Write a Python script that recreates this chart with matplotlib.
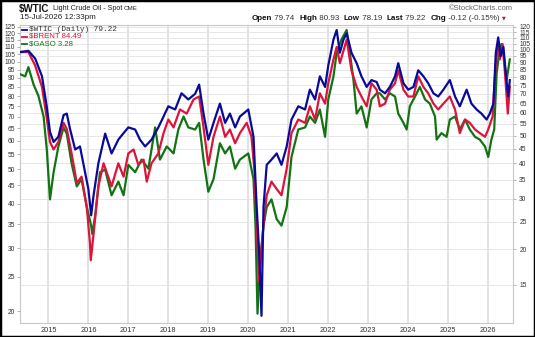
import matplotlib
matplotlib.use("Agg")
import matplotlib.pyplot as plt
from matplotlib.patches import Rectangle

# dates as decimal years (right-hand scale)
wtic_t = [2014.29, 2014.50, 2014.67, 2014.84, 2014.96, 2015.04, 2015.13, 2015.25, 2015.38, 2015.46,
          2015.54, 2015.67, 2015.79, 2015.88, 2016.00, 2016.07, 2016.13, 2016.25, 2016.42, 2016.58,
          2016.75, 2016.88, 2017.00, 2017.17, 2017.29, 2017.42, 2017.58, 2017.75, 2017.88, 2018.00,
          2018.17, 2018.33, 2018.50, 2018.67, 2018.77, 2018.88, 2019.00, 2019.13, 2019.29, 2019.42,
          2019.54, 2019.67, 2019.79, 2020.00, 2020.13, 2020.21, 2020.27, 2020.33, 2020.38, 2020.46,
          2020.58, 2020.71, 2020.83, 2020.96, 2021.08, 2021.25, 2021.42, 2021.54, 2021.67, 2021.79,
          2021.92, 2022.00, 2022.13, 2022.21, 2022.29, 2022.38, 2022.46, 2022.58, 2022.71, 2022.83,
          2022.96, 2023.08, 2023.21, 2023.29, 2023.42, 2023.54, 2023.67, 2023.75, 2023.88, 2024.00,
          2024.13, 2024.25, 2024.38, 2024.50, 2024.63, 2024.75, 2024.88, 2025.04, 2025.17, 2025.29,
          2025.46, 2025.58, 2025.71, 2025.83, 2025.96, 2026.04, 2026.13, 2026.19, 2026.25, 2026.31,
          2026.38, 2026.44, 2026.50, 2026.54]
wtic_v = [98, 99, 93, 80.6, 63, 51.5, 47.5, 49.5, 59, 59.7,
          52.8, 44.7, 45.8, 39.5, 32.5, 26.3, 30.9, 40, 50.8, 43.3,
          48.4, 51, 53.4, 52.5, 48.4, 45.8, 48.4, 53.4, 58.3, 63.3,
          61.7, 70.3, 66.9, 70, 75.4, 59.7, 48.4, 55.4, 64.7, 55.4,
          59.7, 53.4, 58.3, 61.7, 49.5, 28.1, 19.7, 11.7, 28.1, 39.5,
          41.2, 43.3, 39.5, 45.8, 56.9, 63.3, 61.7, 72.4, 66.9, 80.6,
          74, 87.9, 108.4, 117.1, 97.5, 108.4, 114, 97.5, 89.6, 80.6,
          74, 78.2, 77, 72.4, 70.3, 74, 80.6, 89.6, 76.2, 72.4,
          74, 84.6, 80.6, 76.2, 70.3, 68.5, 72.4, 78.2, 68.5, 63.3,
          72.4, 64.7, 61.7, 59.7, 56.9, 59.7, 64.7, 97.5, 110.3, 94.7,
          102.2, 82.4, 68.5, 78.2]

brent_t = [2014.29, 2014.50, 2014.67, 2014.84, 2014.96, 2015.04, 2015.13, 2015.25, 2015.38, 2015.46,
           2015.58, 2015.71, 2015.83, 2015.96, 2016.04, 2016.06, 2016.13, 2016.25, 2016.38, 2016.58,
           2016.75, 2016.88, 2017.00, 2017.13, 2017.25, 2017.38, 2017.46, 2017.58, 2017.75, 2017.88,
           2018.00, 2018.13, 2018.29, 2018.46, 2018.63, 2018.77, 2018.88, 2019.00, 2019.13, 2019.29,
           2019.42, 2019.54, 2019.67, 2019.79, 2019.96, 2020.08, 2020.15, 2020.21, 2020.27, 2020.32,
           2020.38, 2020.46, 2020.58, 2020.71, 2020.83, 2020.96, 2021.08, 2021.25, 2021.42, 2021.54,
           2021.67, 2021.79, 2021.92, 2022.00, 2022.13, 2022.21, 2022.29, 2022.38, 2022.46, 2022.58,
           2022.71, 2022.83, 2022.96, 2023.08, 2023.21, 2023.29, 2023.42, 2023.54, 2023.67, 2023.75,
           2023.88, 2024.00, 2024.13, 2024.25, 2024.38, 2024.50, 2024.63, 2024.75, 2024.88, 2025.04,
           2025.17, 2025.29, 2025.42, 2025.54, 2025.67, 2025.79, 2025.92, 2026.00, 2026.11, 2026.19,
           2026.25, 2026.29, 2026.36, 2026.42, 2026.49, 2026.54]
brent_v = [98, 98, 87.9, 74, 57.5, 47.5, 44.7, 47.5, 55.4, 52.8,
           43.3, 34.1, 35.9, 28.1, 21, 18.3, 22.6, 33.2, 40, 33.2,
           40, 35.9, 43.3, 44.7, 39.5, 41.2, 34.5, 40, 43.3, 51,
           56.9, 53.4, 61.7, 59.7, 66.9, 68.5, 53.4, 39.5, 49.5, 58.3,
           49.5, 52.5, 47, 51, 55.4, 49.5, 38.3, 24.2, 15.4, 19.7,
           24.2, 30.9, 34.5, 32.5, 30.9, 38.3, 51, 56.9, 55.4, 63.3,
           56.9, 70.3, 64.7, 76.2, 92.4, 102.2, 89.6, 99, 108.4, 84.6,
           74, 68.5, 63.3, 76.2, 72.4, 63.3, 64.7, 72.4, 76.2, 84.6,
           72.4, 68.5, 68.5, 80.6, 74, 70.3, 64.7, 61.7, 64.7, 68.5,
           61.7, 51, 56.9, 55.4, 52.5, 51, 49.5, 52.5, 58.3, 89.6,
           104.6, 92.4, 104.6, 82.4, 59.7, 74]

gaso_t = [2014.29, 2014.42, 2014.50, 2014.63, 2014.75, 2014.88, 2014.96, 2015.04, 2015.13, 2015.25,
          2015.38, 2015.46, 2015.58, 2015.71, 2015.83, 2015.96, 2016.07, 2016.10, 2016.17, 2016.29,
          2016.42, 2016.58, 2016.75, 2016.88, 2017.00, 2017.17, 2017.33, 2017.50, 2017.67, 2017.79,
          2017.96, 2018.13, 2018.25, 2018.38, 2018.50, 2018.67, 2018.77, 2018.88, 2019.00, 2019.13,
          2019.29, 2019.42, 2019.54, 2019.67, 2019.79, 2020.00, 2020.13, 2020.18, 2020.23, 2020.29,
          2020.38, 2020.46, 2020.58, 2020.71, 2020.83, 2020.96, 2021.08, 2021.25, 2021.42, 2021.54,
          2021.67, 2021.79, 2021.92, 2022.00, 2022.13, 2022.21, 2022.33, 2022.46, 2022.54, 2022.63,
          2022.71, 2022.83, 2022.96, 2023.08, 2023.21, 2023.29, 2023.42, 2023.54, 2023.67, 2023.75,
          2023.88, 2023.96, 2024.04, 2024.17, 2024.29, 2024.42, 2024.54, 2024.67, 2024.71, 2024.83,
          2024.96, 2025.04, 2025.17, 2025.29, 2025.42, 2025.54, 2025.67, 2025.79, 2025.92, 2026.00,
          2026.08, 2026.15, 2026.21, 2026.28, 2026.33, 2026.39, 2026.46, 2026.54]
gaso_v = [82, 80.6, 86.8, 75.4, 68.9, 58.3, 44.7, 29.9, 37.2, 45.8,
          53.4, 50.7, 40, 33.2, 35.2, 28.1, 24.2, 22.6, 26.3, 37.2,
          38, 30.9, 34.5, 30.9, 39.5, 37.2, 41.2, 38.3, 53.4, 41.2,
          45.8, 43.3, 52.5, 58.3, 53.4, 52.5, 55.4, 41.2, 31.8, 35.2,
          47, 43.3, 45.8, 38.3, 41.2, 43.3, 35.2, 24.2, 11.9, 17.6,
          24.2, 28.1, 29.9, 25.5, 24.2, 28.1, 42.1, 52.5, 53.4, 58.3,
          55.4, 61.7, 49.5, 66.9, 80.6, 97.5, 108.4, 117.1, 97.5, 78.2,
          59.7, 63.3, 53.4, 66.9, 70.3, 70.3, 66.9, 70.3, 68.5, 59.7,
          55.4, 52.5, 63.3, 68.5, 74, 66.9, 64.7, 58.3, 48.4, 51,
          49.5, 56.9, 58.3, 52.5, 56.9, 52.5, 49.5, 48.4, 45.8, 42.1,
          48.4, 52.5, 82.4, 99, 104.6, 94.7, 78.2, 92.4]

years = list(range(2015, 2027))
right_ticks = [15, 20, 25, 30, 35, 40, 45, 50, 55, 60, 65, 70, 75, 80, 85, 90, 95, 100, 105, 110, 115, 120]
left_ticks = [20, 25, 30, 35, 40, 45, 50, 55, 60, 65, 70, 75, 80, 85, 90, 95, 100, 105, 110, 115, 120, 125]

plt.rcParams['font.family'] = ['Liberation Sans', 'DejaVu Sans']

W, H = 535, 337
fig = plt.figure(figsize=(W / 100, H / 100), dpi=100)
fig.patch.set_facecolor('white')

ax = fig.add_axes([20 / W, 1 - 323 / H, 493 / W, 298 / H])
ax.set_yscale('log')
ax.set_ylim(11.04, 121.9)
ax.set_xlim(2014.29, 2026.62)

ax.plot(gaso_t, gaso_v, color='#137313', lw=1.6, zorder=3)
ax.plot(brent_t, brent_v, color='#dc143c', lw=1.6, zorder=4)
ax.plot(wtic_t, wtic_v, color='#0a0a9a', lw=1.6, zorder=5)

# left-hand scale (drawn first so twinx doesn't reset the right one)
ax2 = ax.twinx()
ax2.set_yscale('log')
ax2.set_ylim(18.53, 126.6)
ax2.yaxis.tick_left()
ax2.set_yticks(left_ticks)
ax2.set_yticklabels([str(v) for v in left_ticks])
ax2.yaxis.set_minor_locator(matplotlib.ticker.NullLocator())
ax2.tick_params(axis='y', labelsize=4.8, length=2, width=0.5, color='#999999',
                pad=1.5, labelcolor='#333333')
for s in ax2.spines.values():
    s.set_visible(False)

ax.yaxis.tick_right()
ax.set_yticks(right_ticks)
ax.set_yticklabels([str(v) for v in right_ticks])
ax.yaxis.set_minor_locator(matplotlib.ticker.NullLocator())
ax.tick_params(axis='y', labelsize=4.8, length=2, width=0.5, color='#999999',
               pad=2.5, labelcolor='#333333')
ax.set_xticks(years)
ax.set_xticklabels([str(y) for y in years])
ax.tick_params(axis='x', labelsize=5.3, length=0, pad=3, labelcolor='#333333')
ax.grid(axis='y', color='#e6e6e6', lw=0.7)
ax.grid(axis='x', color='#dadada', lw=1.1)
ax.set_axisbelow(True)
for s in ax.spines.values():
    s.set_color('#c8c8c8')
    s.set_linewidth(0.8)

# legend block inside the plot
legend_rows = [("$WTIC (Daily) 79.22", '#0a0a9a', '#333333', 'Liberation Mono'),
               ("$BRENT 84.49", '#dc143c', '#dc143c', 'Liberation Sans'),
               ("$GASO 3.28", '#137313', '#137313', 'Liberation Sans')]
for i, (txt, lc, tc, fam) in enumerate(legend_rows):
    yy = 1 - (29.5 + i * 7) / H
    fig.add_artist(plt.Line2D([22 / W, 27 / W], [yy, yy], color=lc, lw=1.3))
    fig.text(29 / W, yy, txt, color=tc, fontsize=5.6, family=fam, va='center', ha='left')

# header
fig.text(19 / W, 1 - 9 / H, "$WTIC", fontsize=7, fontweight='bold', va='center', color='#111111')
fig.text(53 / W, 1 - 9 / H, "Light Crude Oil - Spot", fontsize=5.2, va='center', color='#222222')
fig.text(124 / W, 1 - 9 / H, "CME", fontsize=4.5, va='center', color='#222222')
fig.text(20 / W, 1 - 17.5 / H, "15-Jul-2026 12:33pm", fontsize=5.8, va='center', color='#222222')
fig.text(513 / W, 1 - 9 / H, "\u00a9StockCharts.com", fontsize=5.5, va='center', ha='right', color='#666666')

parts = [("Open", True), (" 79.74  ", False), ("High", True), (" 80.93  ", False),
         ("Low", True), (" 78.19  ", False), ("Last", True), (" 79.22  ", False),
         ("Chg", True), (" -0.12 (-0.15%)", False)]
fig.canvas.draw()
rend = fig.canvas.get_renderer()
xpos = 252
for txt, bold in parts:
    t = fig.text(xpos / W, 1 - 18 / H, txt, fontsize=5.8, va='center', ha='left',
                 fontweight='bold' if bold else 'normal', color='#111111' if bold else '#333333')
    xpos += t.get_window_extent(renderer=rend).width
fig.text((xpos + 2) / W, 1 - 18 / H, "\u25bc", fontsize=3.5, va='center', ha='left',
         color='#c0103c', family=['DejaVu Sans'])

fig.add_artist(Rectangle((0, 0), 1, 1, transform=fig.transFigure, fill=False,
                         edgecolor='black', lw=2.5))

fig.savefig('out.png', dpi=100)
